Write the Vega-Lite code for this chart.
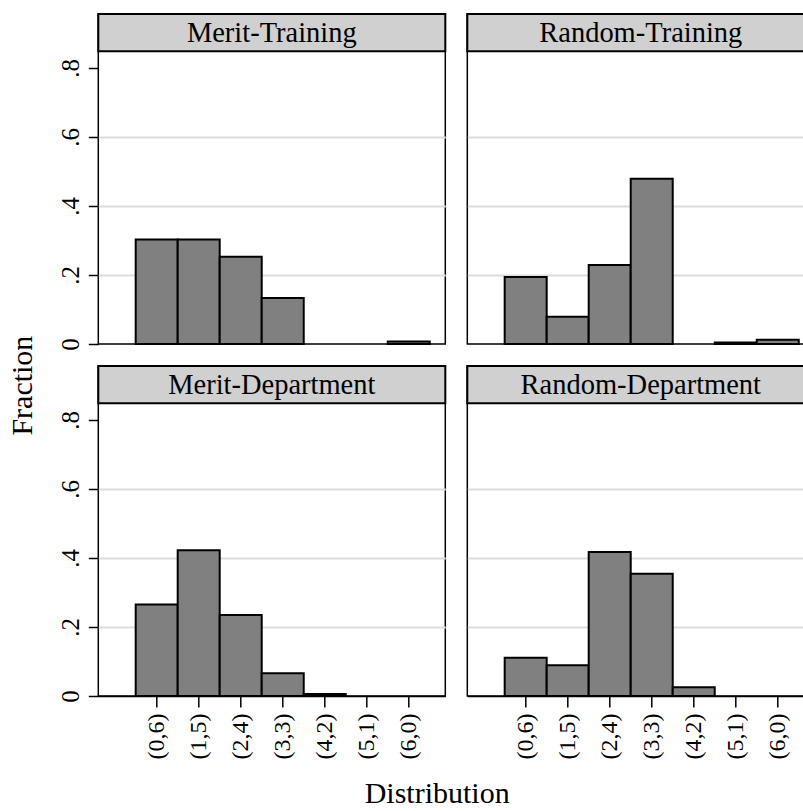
{
  "$schema": "https://vega.github.io/schema/vega-lite/v6.json",
  "padding": {"left": 8.3, "top": 12, "right": 0, "bottom": 0},
  "background": "white",
  "title": {"text": "Distribution", "orient": "bottom", "anchor": "middle", "fontSize": 30, "font": "Liberation Serif", "fontWeight": "normal", "color": "black", "offset": 20, "dx": 25},
  "vconcat": [
    {
      "data": {"values": [
        {"scheme": "Merit", "stage": "Training", "panel": "Merit-Training", "k": 0, "frac": 0.303},
        {"scheme": "Merit", "stage": "Training", "panel": "Merit-Training", "k": 1, "frac": 0.303},
        {"scheme": "Merit", "stage": "Training", "panel": "Merit-Training", "k": 2, "frac": 0.253},
        {"scheme": "Merit", "stage": "Training", "panel": "Merit-Training", "k": 3, "frac": 0.133},
        {"scheme": "Merit", "stage": "Training", "panel": "Merit-Training", "k": 6, "frac": 0.007},
        {"scheme": "Random", "stage": "Training", "panel": "Random-Training", "k": 0, "frac": 0.194},
        {"scheme": "Random", "stage": "Training", "panel": "Random-Training", "k": 1, "frac": 0.079},
        {"scheme": "Random", "stage": "Training", "panel": "Random-Training", "k": 2, "frac": 0.229},
        {"scheme": "Random", "stage": "Training", "panel": "Random-Training", "k": 3, "frac": 0.479},
        {"scheme": "Random", "stage": "Training", "panel": "Random-Training", "k": 5, "frac": 0.004},
        {"scheme": "Random", "stage": "Training", "panel": "Random-Training", "k": 6, "frac": 0.012},
        {"scheme": "Merit", "stage": "Department", "panel": "Merit-Department", "k": 0, "frac": 0.265},
        {"scheme": "Merit", "stage": "Department", "panel": "Merit-Department", "k": 1, "frac": 0.422},
        {"scheme": "Merit", "stage": "Department", "panel": "Merit-Department", "k": 2, "frac": 0.235},
        {"scheme": "Merit", "stage": "Department", "panel": "Merit-Department", "k": 3, "frac": 0.066},
        {"scheme": "Merit", "stage": "Department", "panel": "Merit-Department", "k": 4, "frac": 0.006},
        {"scheme": "Random", "stage": "Department", "panel": "Random-Department", "k": 0, "frac": 0.111},
        {"scheme": "Random", "stage": "Department", "panel": "Random-Department", "k": 1, "frac": 0.089},
        {"scheme": "Random", "stage": "Department", "panel": "Random-Department", "k": 2, "frac": 0.417},
        {"scheme": "Random", "stage": "Department", "panel": "Random-Department", "k": 3, "frac": 0.354},
        {"scheme": "Random", "stage": "Department", "panel": "Random-Department", "k": 4, "frac": 0.025}
      ]},
      "title": {"text": "Fraction", "orient": "left", "anchor": "middle", "fontSize": 30, "font": "Liberation Serif", "fontWeight": "normal", "color": "black", "offset": 20},
      "bounds": "flush",
      "facet": {
        "row": {"field": "stage", "type": "nominal", "sort": ["Training", "Department"], "header": {"labels": false, "title": null}},
        "column": {"field": "scheme", "type": "nominal", "sort": ["Merit", "Random"], "header": {"labels": false, "title": null}}
      },
      "spacing": {"row": 22, "column": 22},
      "spec": {
        "width": 347,
        "height": 330,
        "layer": [
          {
            "mark": {"type": "bar", "width": 42, "fill": "#808080", "stroke": "black", "strokeWidth": 2, "opacity": 1},
            "encoding": {
              "x": {
                "field": "k", "type": "quantitative",
                "scale": {"domain": [-1.39, 6.87], "nice": false, "zero": false, "padding": 0},
                "axis": {
                  "title": null,
                  "values": [0, 1, 2, 3, 4, 5, 6],
                  "labelExpr": "'(' + datum.value + ',' + (6 - datum.value) + ')'",
                  "labelAngle": -90, "labelAlign": "right", "labelBaseline": "middle",
                  "labelFontSize": 24,
                  "tickSize": 11, "labelPadding": 6, "grid": false, "domain": true
                }
              },
              "y": {
                "field": "frac", "type": "quantitative",
                "scale": {"domain": [0, 0.956], "nice": false, "zero": true, "padding": 0},
                "axis": {
                  "title": null,
                  "values": [0, 0.2, 0.4, 0.6, 0.8],
                  "labelExpr": "datum.value == 0 ? '0' : slice(format(datum.value, '.1f'), 1)",
                  "labelAngle": -90, "labelAlign": "center", "labelBaseline": "alphabetic",
                  "tickSize": 10, "labelPadding": 10, "domain": false,
                  "grid": true,
                  "gridColor": {"condition": {"test": "datum.value > 0.1 && datum.value < 0.7", "value": "#dcdcdc"}, "value": "rgba(0,0,0,0)"},
                  "gridWidth": 2
                }
              }
            }
          },
          {
            "transform": [{"aggregate": [{"op": "count", "as": "n"}], "groupby": ["panel"]}],
            "mark": {"type": "rect", "fill": "#d0d0d0", "stroke": "black", "strokeWidth": 2},
            "encoding": {
              "x": {"datum": -1.39}, "x2": {"datum": 6.87},
              "y": {"datum": 0.848}, "y2": {"datum": 0.956}
            }
          },
          {
            "transform": [{"aggregate": [{"op": "count", "as": "n"}], "groupby": ["panel"]}],
            "mark": {"type": "text", "font": "Liberation Serif", "fontSize": 28.5, "color": "black", "baseline": "middle", "align": "center"},
            "encoding": {
              "x": {"datum": 2.74},
              "y": {"datum": 0.902},
              "text": {"field": "panel"}
            }
          }
        ]
      }
    }
  ],
  "config": {
    "font": "Liberation Serif",
    "view": {"stroke": "black", "strokeWidth": 1.5},
    "axis": {
      "labelFont": "Liberation Serif", "titleFont": "Liberation Serif",
      "labelColor": "black", "titleColor": "black",
      "tickColor": "black", "domainColor": "black",
      "labelFontSize": 25, "titleFontSize": 30, "titleFontWeight": "normal",
      "tickWidth": 1.5, "domainWidth": 1.5
    }
  }
}
